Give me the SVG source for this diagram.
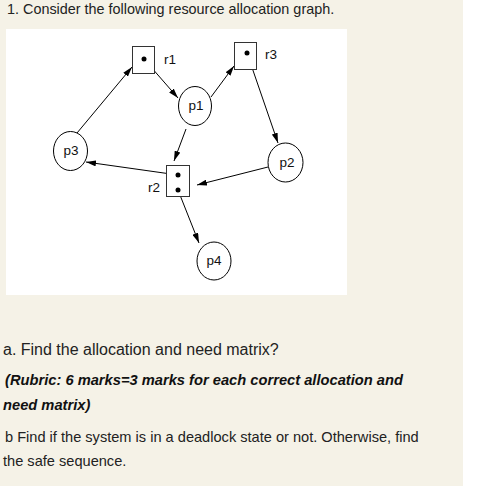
<svg xmlns="http://www.w3.org/2000/svg" width="482" height="486" viewBox="0 0 482 486">
<defs>
<marker id="ah" viewBox="0 0 10 6" refX="10" refY="3" markerWidth="10" markerHeight="6" markerUnits="userSpaceOnUse" orient="auto">
<path d="M0,0 L10,3 L0,6 z" fill="#000"/>
</marker>
</defs>
<style>
.bg{fill:#f5f2e7}
.panel{fill:#ffffff}
.proc{fill:#fff;stroke:#000;stroke-width:1}
.res{fill:#fff;stroke:#333;stroke-width:1}
.dot{fill:#000}
.edge{stroke:#000;stroke-width:1;fill:none;marker-end:url(#ah)}
.lbl{font-family:"Liberation Sans",Arial,sans-serif;font-size:13.5px;fill:#111}
.txt{font-family:"Liberation Sans",Arial,sans-serif;font-size:16px;fill:#222}
.t1{font-family:"Liberation Sans",Arial,sans-serif;font-size:14.4px;fill:#222}
.t2{font-family:"Liberation Sans",Arial,sans-serif;font-size:14.6px;fill:#222}
.rub{font-family:"Liberation Sans",Arial,sans-serif;font-size:14.7px;font-weight:bold;font-style:italic;fill:#111}
</style>
<rect class="bg" x="0" y="0" width="463" height="486"/>
<rect fill="#fff" x="463" y="0" width="19" height="486"/>
<rect class="panel" x="6" y="29" width="341" height="266"/>
<text class="t1" x="7" y="14">1. Consider the following resource allocation graph.</text>
<g id="connectors">
<line class="edge" x1="77" y1="133" x2="132" y2="67"/>
<line class="edge" x1="144" y1="59" x2="178" y2="98"/>
<line class="edge" x1="211" y1="97" x2="234" y2="66"/>
<line class="edge" x1="247" y1="53" x2="278" y2="143"/>
<line class="edge" x1="186" y1="129" x2="174" y2="161"/>
<line class="edge" x1="178" y1="175" x2="86" y2="162"/>
<line class="edge" x1="268" y1="167" x2="197" y2="185"/>
<line class="edge" x1="178" y1="190" x2="199" y2="243"/>
</g>
<g id="r1">
<rect class="res" x="132.5" y="46.5" width="22" height="27"/>
<circle class="dot" cx="144" cy="59" r="2.5"/>
<text class="lbl" x="164" y="64">r1</text>
</g>
<g id="r3">
<rect class="res" x="234.5" y="42.5" width="22" height="27"/>
<circle class="dot" cx="247" cy="53" r="2.5"/>
<text class="lbl" x="265" y="59">r3</text>
</g>
<g id="r2">
<rect class="res" x="166.5" y="165.5" width="23" height="31"/>
<circle class="dot" cx="178" cy="175" r="2.5"/>
<circle class="dot" cx="178" cy="190" r="2.5"/>
<text class="lbl" x="148" y="192">r2</text>
</g>
<g id="p1">
<ellipse class="proc" cx="195" cy="106" rx="16.5" ry="19.5"/>
<text class="lbl" x="196" y="110" text-anchor="middle">p1</text>
</g>
<g id="p3">
<ellipse class="proc" cx="70.5" cy="151" rx="17" ry="19.5"/>
<text class="lbl" x="71" y="155" text-anchor="middle">p3</text>
</g>
<g id="p2">
<ellipse class="proc" cx="285.5" cy="162.5" rx="17.5" ry="19.5"/>
<text class="lbl" x="287" y="167" text-anchor="middle">p2</text>
</g>
<g id="p4">
<ellipse class="proc" cx="214" cy="261" rx="17" ry="19"/>
<text class="lbl" x="214" y="265" text-anchor="middle">p4</text>
</g>
<text class="txt" x="3" y="355">a. Find the allocation and need matrix?</text>
<text class="rub" x="5" y="385">(Rubric: 6 marks=3 marks for each correct allocation and</text>
<text class="rub" x="3" y="410">need matrix)</text>
<text class="t2" x="5" y="442">b Find if the system is in a deadlock state or not. Otherwise, find</text>
<text class="t2" x="3" y="466">the safe sequence.</text>
</svg>
